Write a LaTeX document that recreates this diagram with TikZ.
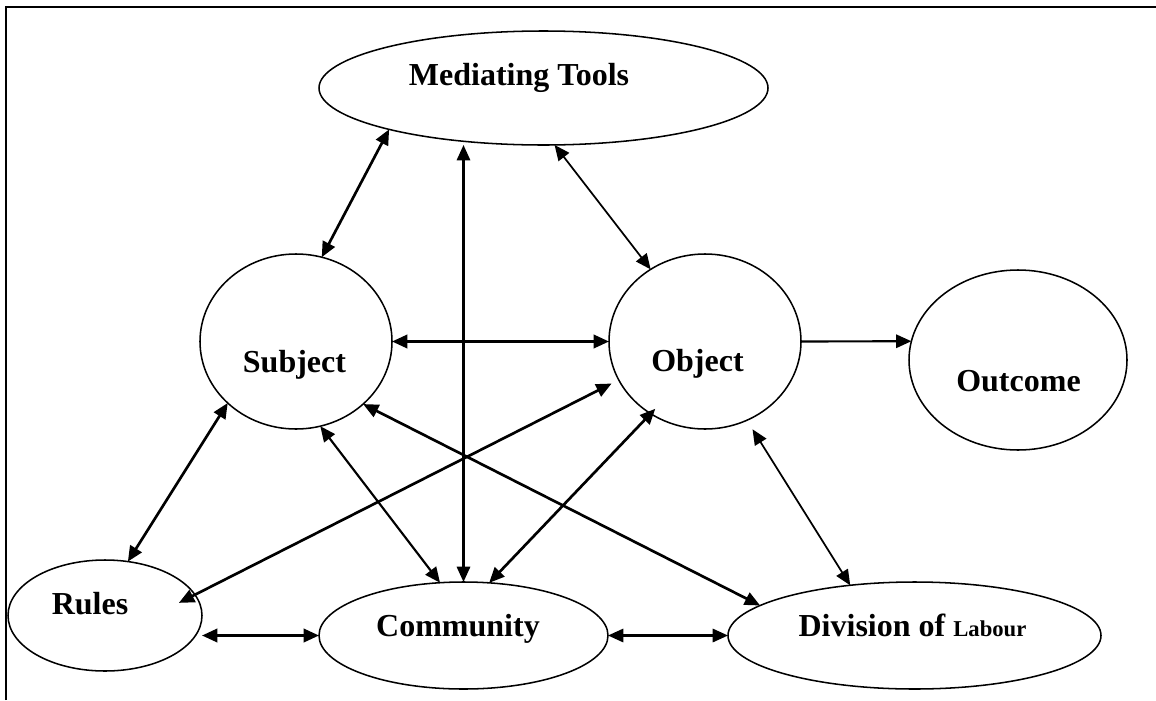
\documentclass[tikz,border=0pt]{standalone}
\usepackage{fontspec}
\setmainfont{Liberation Serif}
\usetikzlibrary{arrows.meta,shapes.geometric,calc}
\tikzset{
  ell/.style 2 args={ellipse, draw, line width=1.15pt, minimum width=#1*0.75pt, minimum height=#2*0.75pt, inner sep=0pt, outer sep=0pt},
  lbl/.style={anchor=base, inner sep=0pt, font=\fontsize{24}{28}\selectfont\bfseries},
  link/.style={{Triangle[length=11.5pt,width=10pt]}-{Triangle[length=11.5pt,width=10pt]}},
  thk/.style={link, line width=2pt},
  mid/.style={link, line width=1.6pt},
  thn/.style={link, line width=1.3pt},
  frame/.style={line width=1.3pt}
}
\begin{document}
\begin{tikzpicture}[x=0.75pt,y=-0.75pt]
\useasboundingbox (0,0) rectangle (1156,700);
\draw[frame] (6,700) -- (6,7) -- (1156,7);

% ellipses
\node[ell={449}{114}] (mt)  at (543.5,88)   {};
\node[ell={192}{175}] (sub) at (296,341.5)  {};
\node[ell={192}{175}] (obj) at (705,341.5)  {};
\node[ell={218}{180}] (out) at (1018,360)   {};
\node[ell={194}{111}] (rul) at (105,615.5)  {};
\node[ell={289}{107}] (com) at (463.5,635.5) {};
\node[ell={373}{107}] (div) at (914.5,635.5) {};

% labels
\node[lbl] (tmt)  at (519,85)    {Mediating Tools};
\node[lbl] (tsub) at (294.5,372) {Subject};
\node[lbl] (tobj) at (697.5,371) {Object};
\node[lbl] (tout) at (1018.5,391) {Outcome};
\node[lbl] (trul) at (90,614)    {Rules};
\node[lbl] (tcom) at (458,636)   {Community};
\node[lbl] (tdiv) at (912.5,636) {Division of {\fontsize{17}{20}\selectfont Labour}};

% connectors
\draw[thk] (mt.195) -- (sub.73);
\draw[mid] (com.north) -- (com.north |- mt.south);
\draw[thn] (mt.281) -- (obj.127);
\draw[thk] (sub.east) -- (obj.west);
\draw[line width=1.6pt, -{Triangle[length=11.5pt,width=10pt]}] (obj.east) -- (out.170);
\draw[thk] (sub.222) -- (rul.67);
\draw[thk, shorten <=-13.5pt, shorten >=6pt] (rul.13) -- (obj.204);
\draw[mid] (sub.286) -- (com.114);
\draw[thk] (sub.317) -- (div.169);
\draw[thk, shorten <=-5pt] (obj.233) -- (com.64);
\draw[thn, shorten <=8pt] (obj.298) -- (div.142);
\draw[thk] (com.west -| rul.east) -- (com.west);
\draw[mid] (com.east) -- (div.west);
\end{tikzpicture}
\end{document}
